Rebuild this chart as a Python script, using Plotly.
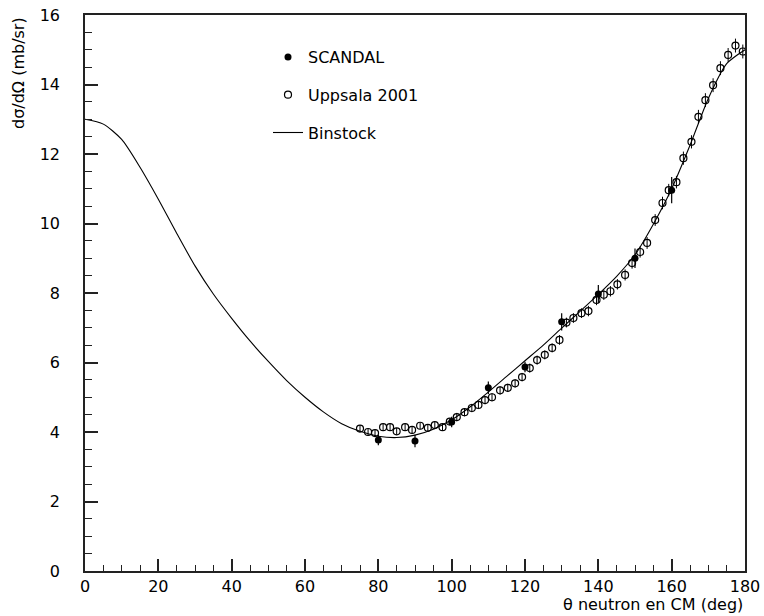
import plotly.graph_objects as go

# Binstock curve
binstock_x = [0, 5, 10, 15, 20, 25, 30, 35, 40, 45, 50, 55, 60, 65, 70, 75, 80, 85, 90, 95,
              100, 105, 110, 115, 120, 125, 130, 135, 140, 145, 150, 155, 160, 165, 170, 175, 180]
binstock_y = [13.0, 12.86, 12.42, 11.62, 10.7, 9.72, 8.78, 7.97, 7.27, 6.62, 6.03, 5.48, 5.0, 4.58, 4.24, 4.02, 3.88, 3.84, 3.91, 4.08,
              4.35, 4.72, 5.15, 5.6, 6.05, 6.5, 6.99, 7.47, 7.96, 8.48, 9.1, 9.98, 11.0, 12.25, 13.6, 14.6, 15.0]

# SCANDAL data
scandal_x = [80, 90, 100, 110, 120, 130, 140, 150, 160]
scandal_y = [3.77, 3.74, 4.29, 5.27, 5.87, 7.17, 7.97, 9.0, 10.96]
scandal_err = [0.15, 0.18, 0.15, 0.18, 0.15, 0.25, 0.26, 0.28, 0.38]

# Uppsala 2001 data
uppsala_x = [75.0, 77.2, 79.1, 81.3, 83.2, 85.0, 87.3, 89.2, 91.4, 93.5, 95.4, 97.5, 99.5,
             101.4, 103.5, 105.5, 107.3, 109.1, 111.0, 113.2, 115.3, 117.3, 119.2, 121.3, 123.3,
             125.4, 127.4, 129.4, 131.3, 133.2, 135.4, 137.3, 139.5, 141.5, 143.3, 145.2, 147.3,
             149.2, 151.4, 153.3, 155.5, 157.5, 159.2, 161.3, 163.2, 165.4, 167.3, 169.2, 171.3,
             173.3, 175.4, 177.4, 179.4]
uppsala_y = [4.10, 4.00, 3.97, 4.14, 4.14, 4.02, 4.14, 4.06, 4.18, 4.12, 4.20, 4.14, 4.30,
             4.43, 4.57, 4.69, 4.78, 4.92, 5.00, 5.20, 5.27, 5.40, 5.58, 5.84, 6.07,
             6.22, 6.42, 6.65, 7.15, 7.28, 7.42, 7.48, 7.80, 7.95, 8.05, 8.25, 8.52,
             8.86, 9.18, 9.44, 10.10, 10.59, 10.96, 11.19, 11.88, 12.35, 13.07, 13.55, 13.98,
             14.47, 14.85, 15.12, 14.95]
uppsala_err = [0.10, 0.10, 0.10, 0.10, 0.10, 0.10, 0.10, 0.10, 0.10, 0.10, 0.10, 0.10, 0.10,
               0.12, 0.12, 0.12, 0.12, 0.12, 0.12, 0.12, 0.12, 0.12, 0.12, 0.13, 0.13,
               0.13, 0.13, 0.14, 0.14, 0.14, 0.14, 0.15, 0.15, 0.15, 0.15, 0.15, 0.16,
               0.16, 0.16, 0.17, 0.17, 0.18, 0.18, 0.18, 0.19, 0.19, 0.2, 0.2, 0.2,
               0.2, 0.2, 0.2, 0.2]

x_ticks = [0, 20, 40, 60, 80, 100, 120, 140, 160, 180]
y_ticks = [0, 2, 4, 6, 8, 10, 12, 14, 16]

FONT = "DejaVu Sans"

fig = go.Figure()
fig.add_trace(go.Scatter(
    x=scandal_x, y=scandal_y, mode="markers", name="SCANDAL", legendgroup="a",
    marker=dict(symbol="circle", size=7, color="black"),
    error_y=dict(type="data", array=scandal_err, color="black", thickness=1.2, width=0),
))
fig.add_trace(go.Scatter(
    x=uppsala_x, y=uppsala_y, mode="markers", name="Uppsala 2001", legendgroup="b",
    marker=dict(symbol="circle-open", size=7, color="black", line=dict(width=1.2, color="black")),
    error_y=dict(type="data", array=uppsala_err, color="black", thickness=1, width=0),
))
fig.add_trace(go.Scatter(
    x=binstock_x, y=binstock_y, mode="lines", name="Binstock", legendgroup="c",
    line=dict(color="black", width=1.1, shape="spline", smoothing=0.7),
))

fig.update_layout(
    width=764, height=616,
    margin=dict(l=85, r=19, t=15, b=45),
    paper_bgcolor="white", plot_bgcolor="white",
    font=dict(family=FONT, size=16, color="black"),
    showlegend=True,
    legend=dict(x=(268 - 85) / 660, y=(571 - 40) / 556, xanchor="left", yanchor="top",
                bgcolor="rgba(0,0,0,0)", borderwidth=0, tracegroupgap=14,
                font=dict(family=FONT, size=16, color="black"), itemwidth=30),
)
fig.update_xaxes(
    range=[0, 180], tickvals=x_ticks, ticktext=[str(v) for v in x_ticks],
    showgrid=False, zeroline=False, showline=True, linecolor="#222", linewidth=1.5, mirror=True,
    ticks="inside", ticklen=12, tickwidth=1.5, tickcolor="#222", automargin=False,
    minor=dict(dtick=5, ticks="inside", ticklen=6, tickwidth=1.2, tickcolor="#222", showgrid=False),
    tickfont=dict(family=FONT, size=16, color="black"),
)
fig.update_yaxes(
    range=[0, 16], tickvals=y_ticks, ticktext=[str(v) for v in y_ticks],
    showgrid=False, zeroline=False, showline=True, linecolor="#222", linewidth=1.5, mirror=True,
    ticks="inside", ticklen=13, tickwidth=1.5, tickcolor="#222", automargin=False,
    minor=dict(dtick=0.5, ticks="inside", ticklen=7, tickwidth=1.2, tickcolor="#222", showgrid=False),
    tickfont=dict(family=FONT, size=16, color="black"), ticklabelstandoff=20,
    ticklabeloverflow="allow",
)
fig.add_annotation(text="dσ/dΩ (mb/sr)", xref="paper", yref="paper",
                   x=-(85 - 18) / 660, y=(571 - 73) / 556, textangle=-90,
                   showarrow=False, xanchor="center", yanchor="middle",
                   font=dict(family=FONT, size=16, color="black"))
fig.add_annotation(text="θ neutron en CM (deg)", xref="paper", yref="paper",
                   x=1.0, y=-(604 - 571) / 556, showarrow=False,
                   xanchor="right", yanchor="middle",
                   font=dict(family=FONT, size=16, color="black"))

# remove the default page margin so the figure sits at the window's top-left corner
fig.write_html("out.html", config={"displayModeBar": False},
               post_script="document.body.style.margin='0';document.body.style.overflow='hidden';")
